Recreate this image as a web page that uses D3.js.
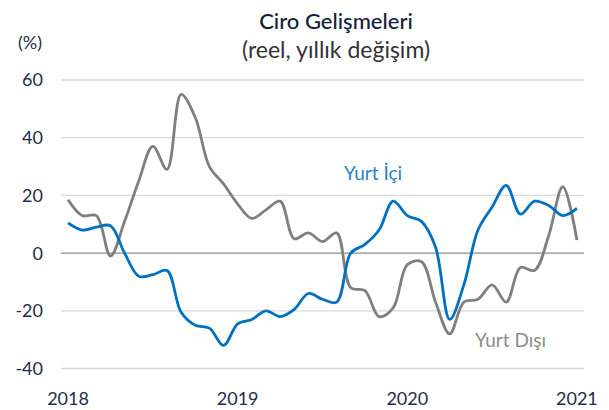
<!DOCTYPE html>
<html>
<head>
<meta charset="utf-8">
<script src="https://cdn.jsdelivr.net/npm/d3@7"></script>
<style>
  html, body { margin: 0; padding: 0; background: #fff; }
  svg { display: block; font-family: Lato, "Open Sans", sans-serif; }
</style>
</head>
<body>
<svg id="chart" width="609" height="410"></svg>
<script>
document.addEventListener("DOMContentLoaded", () => {
  "use strict";

  // monthly, Jan 2018 .. Jan 2021
  const MONTHS = d3.range(37);
  const YEAR_TICKS = [0, 12, 24, 36];
  const YEAR_LABELS = ["2018", "2019", "2020", "2021"];
  const Y_TICKS = [-40, -20, 0, 20, 40, 60];

  const yurtIci = [
    10.5, 8, 9, 9.5, 0, -8, -7.5, -6, -20.5, -25, -26, -32,
    -24.5, -23, -20, -22, -19.5, -14, -16, -17, 0, 3, 8, 18,
    13, 11, 2, -23, -11, 8, 16, 23.5, 13.5, 18, 16.5, 13, 15.5
  ];
  const yurtDisi = [
    18.5, 13, 13, -1, 11, 25, 37, 29, 55, 47, 30, 24,
    17, 12, 15, 18, 5, 7, 4, 7, -12, -13, -22, -19,
    -4, -3, -17, -28, -17, -16, -11, -17, -5, -6, 6, 23, 4.5
  ];

  const svg = d3.select("#chart");

  const x = d3.scaleLinear().domain([-0.5, 36.5]).range([61, 584]);
  const y = d3.scaleLinear().domain([-40, 60]).range([368.5, 80]);

  // gridlines
  svg.append("g").selectAll("line").data(Y_TICKS).join("line")
    .attr("x1", x(-0.5)).attr("x2", x(36.5))
    .attr("y1", d => y(d)).attr("y2", d => y(d))
    .attr("stroke", d => d === 0 ? "#8c8c8c" : "#d9d9d9")
    .attr("stroke-width", d => d === 0 ? 1.2 : 1.3);

  // y labels
  svg.append("g").selectAll("text").data(Y_TICKS).join("text")
    .attr("x", 43)
    .attr("y", d => y(d))
    .attr("dy", "0.36em")
    .attr("text-anchor", "end")
    .attr("fill", "#1f2d47")
    .style("font-size", "18px")
    .text(d => d);

  // x labels
  svg.append("g").selectAll("text").data(YEAR_TICKS).join("text")
    .attr("x", d => x(d))
    .attr("y", 405)
    .attr("text-anchor", "middle")
    .attr("fill", "#1f2d47")
    .style("font-size", "18px")
    .text((d, i) => YEAR_LABELS[i]);

  const line = d3.line()
    .x((d, i) => x(MONTHS[i]))
    .y(d => y(d))
    .curve(d3.curveCatmullRom.alpha(0.5));

  svg.append("path").datum(yurtDisi)
    .attr("d", line)
    .attr("fill", "none")
    .attr("stroke", "#7f7f7f")
    .attr("stroke-width", 2.8)
    .attr("stroke-linejoin", "round");

  svg.append("path").datum(yurtIci)
    .attr("d", line)
    .attr("fill", "none")
    .attr("stroke", "#0070c0")
    .attr("stroke-width", 2.8)
    .attr("stroke-linejoin", "round");

  // series labels
  svg.append("text")
    .attr("x", 344).attr("y", 180)
    .attr("fill", "#1f7fd0")
    .style("font-size", "19px")
    .text("Yurt İçi");

  svg.append("text")
    .attr("x", 475).attr("y", 347)
    .attr("fill", "#8c8c8c")
    .style("font-size", "19px")
    .text("Yurt Dışı");

  // titles
  svg.append("text")
    .attr("x", 336).attr("y", 29)
    .attr("text-anchor", "middle")
    .attr("fill", "#14203a")
    .style("font-size", "22px")
    .style("font-weight", 500)
    .text("Ciro Gelişmeleri");

  svg.append("text")
    .attr("x", 336).attr("y", 58)
    .attr("text-anchor", "middle")
    .attr("fill", "#333")
    .style("font-size", "23px")
    .text("(reel, yıllık değişim)");

  svg.append("text")
    .attr("x", 18).attr("y", 49)
    .attr("fill", "#1f2d47")
    .style("font-size", "18px")
    .text("(%)");
});
</script>
</body>
</html>
